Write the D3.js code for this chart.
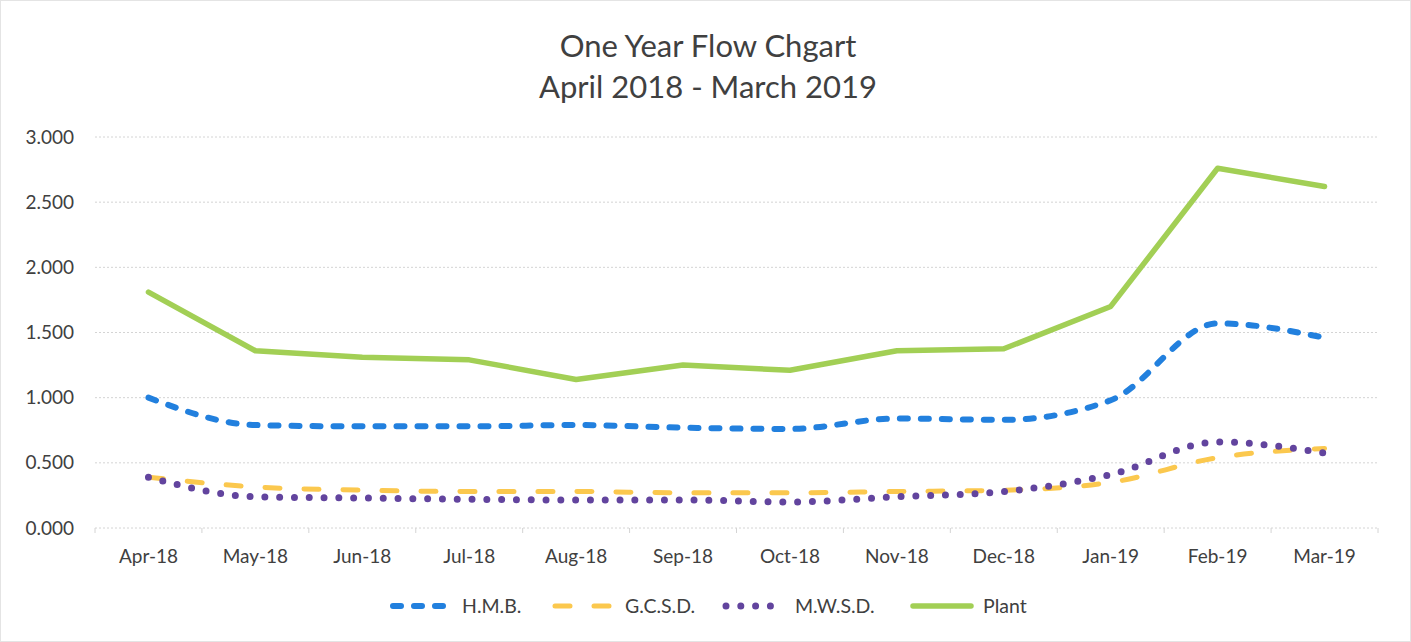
<!DOCTYPE html>
<html>
<head>
<meta charset="utf-8">
<script src="https://cdn.jsdelivr.net/npm/d3@7"></script>
<style>
  html, body { margin: 0; padding: 0; background: #fff; }
  svg { display: block; font-family: Lato, "Open Sans", sans-serif; }
</style>
</head>
<body>
<svg id="chart" width="1411" height="642"></svg>
<script>
// Monthly flow values
const months = ["Apr-18", "May-18", "Jun-18", "Jul-18", "Aug-18", "Sep-18",
                "Oct-18", "Nov-18", "Dec-18", "Jan-19", "Feb-19", "Mar-19"];
const hmb   = [1.00, 0.79, 0.78, 0.78, 0.79, 0.77, 0.76, 0.84, 0.83, 0.98, 1.57, 1.46];
const gcsd  = [0.39, 0.315, 0.29, 0.28, 0.28, 0.27, 0.27, 0.28, 0.29, 0.35, 0.54, 0.61];
const mwsd  = [0.39, 0.24, 0.23, 0.22, 0.215, 0.215, 0.20, 0.24, 0.28, 0.41, 0.66, 0.575];
const plant = [1.81, 1.36, 1.31, 1.29, 1.14, 1.25, 1.21, 1.36, 1.375, 1.70, 2.76, 2.62];
const yTicks = [0, 0.5, 1.0, 1.5, 2.0, 2.5, 3.0];
const titleLines = ["One Year Flow Chgart", "April 2018 - March 2019"];

const series = [
  { name: "H.M.B.",   values: hmb,   color: "#2280de", width: 6,   dash: "8,13",  smooth: true },
  { name: "G.C.S.D.", values: gcsd,  color: "#fbc84e", width: 5,   dash: "15,24", smooth: true },
  { name: "M.W.S.D.", values: mwsd,  color: "#62449e", width: 7,   dash: "0,14.8", smooth: true },
  { name: "Plant",    values: plant, color: "#a2cf55", width: 5.5, dash: null,    smooth: false }
];

const svg = d3.select("#chart");
const W = 1411, H = 642;
const plot = { left: 95, right: 1378, top: 137, bottom: 528 };
const textColor = "#404040";

// outer chart frame
svg.append("rect")
  .attr("x", 0.5).attr("y", 0.5).attr("width", W - 1).attr("height", H - 1)
  .attr("fill", "#fff").attr("stroke", "#e4e4e4");

const x = d3.scaleBand().domain(months).range([plot.left, plot.right]);
const y = d3.scaleLinear().domain([0, 3]).range([plot.bottom, plot.top]);

// title
svg.append("g").selectAll("text").data(titleLines).join("text")
  .attr("x", 708).attr("y", (d, i) => 57 + i * 41)
  .attr("text-anchor", "middle")
  .attr("font-size", 31).attr("fill", textColor)
  .text(d => d);

// horizontal gridlines
svg.append("g").selectAll("line").data(yTicks).join("line")
  .attr("x1", plot.left).attr("x2", plot.right)
  .attr("y1", d => y(d)).attr("y2", d => y(d))
  .attr("stroke", "#d4d4d4").attr("stroke-width", 1)
  .attr("stroke-dasharray", "2,2");

// y axis labels
const yAxis = d3.axisLeft(y).tickValues(yTicks).tickFormat(d3.format(".3f")).tickSize(0).tickPadding(21);
const gy = svg.append("g").attr("transform", `translate(${plot.left},0)`).call(yAxis);
gy.select(".domain").remove();
gy.selectAll("text").attr("font-size", 19).attr("fill", textColor).attr("font-family", "Lato, sans-serif");

// x axis labels and category tick marks
const xAxis = d3.axisBottom(x).tickSize(0).tickPadding(22);
const gx = svg.append("g").attr("transform", `translate(0,${plot.bottom})`).call(xAxis);
gx.select(".domain").remove();
gx.selectAll("text").attr("font-size", 19).attr("fill", textColor).attr("font-family", "Lato, sans-serif");
svg.append("g").selectAll("line").data(months.concat([null])).join("line")
  .attr("x1", (d, i) => plot.left + i * x.bandwidth())
  .attr("x2", (d, i) => plot.left + i * x.bandwidth())
  .attr("y1", plot.bottom).attr("y2", plot.bottom + 5)
  .attr("stroke", "#d4d4d4");

// series lines
const cx = (d, i) => x(months[i]) + x.bandwidth() / 2;
series.forEach(s => {
  const line = d3.line().x(cx).y(d => y(d))
    .curve(s.smooth ? d3.curveMonotoneX : d3.curveLinear);
  svg.append("path")
    .datum(s.values)
    .attr("d", line)
    .attr("fill", "none")
    .attr("stroke", s.color)
    .attr("stroke-width", s.width)
    .attr("stroke-linecap", "round")
    .attr("stroke-linejoin", "round")
    .attr("stroke-dasharray", s.dash);
});

// legend
const legendPos = [
  { sx: 393, tx: 462 },
  { sx: 555, tx: 625 },
  { sx: 726, tx: 795 },
  { sx: 913, tx: 983 }
];
const ly = 606;
const lg = svg.append("g");
series.forEach((s, i) => {
  const p = legendPos[i];
  lg.append("line")
    .attr("x1", p.sx).attr("x2", p.sx + 58)
    .attr("y1", ly).attr("y2", ly)
    .attr("stroke", s.color).attr("stroke-width", s.width)
    .attr("stroke-linecap", "round")
    .attr("stroke-dasharray", s.dash);
  lg.append("text")
    .attr("x", p.tx).attr("y", ly + 7)
    .attr("font-size", 19.5).attr("fill", textColor)
    .text(s.name);
});
</script>
</body>
</html>
